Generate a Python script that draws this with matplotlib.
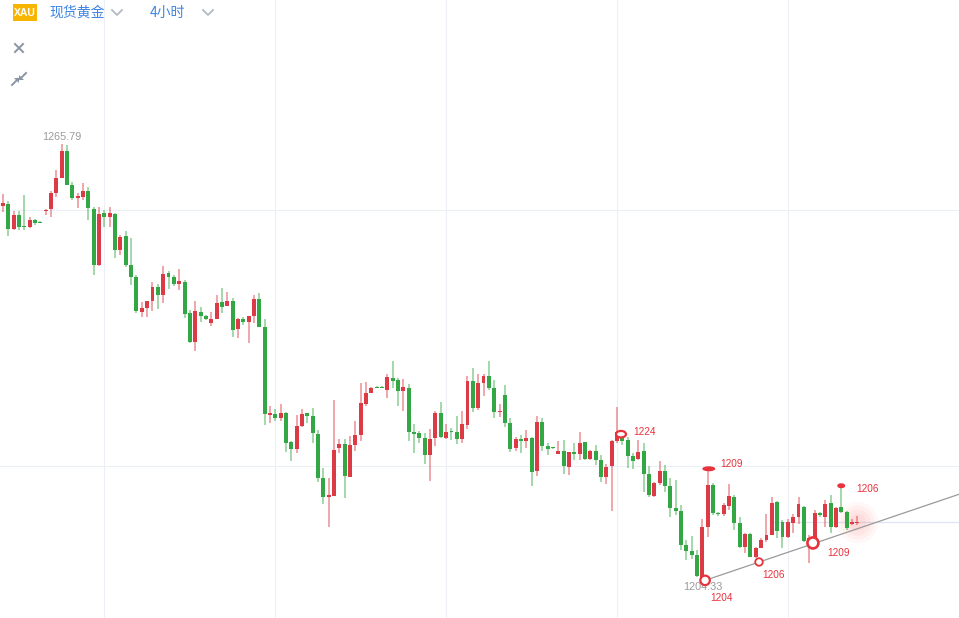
import numpy as np
import matplotlib.pyplot as plt
from matplotlib.patches import Ellipse, Rectangle

# 4h candles, XAU spot gold (red = up, green = down)
opens = [1257.0, 1257.3, 1253.8, 1255.7, 1254.2, 1254.0, 1255.0, 1254.7, 1256.3, 1256.6,
         1258.9, 1261.0, 1264.8, 1260.0, 1258.1, 1258.3, 1259.1, 1256.6, 1248.7, 1256.0,
         1255.5, 1255.9, 1250.8, 1252.8, 1248.7, 1247.0, 1242.0, 1242.6, 1243.6, 1245.5,
         1244.4, 1247.5, 1247.0, 1246.0, 1246.3, 1241.9, 1237.8, 1242.0, 1241.4, 1240.4,
         1241.0, 1243.4, 1242.9, 1243.6, 1239.6, 1241.0, 1240.6, 1241.4, 1243.8, 1239.9,
         1227.4, 1227.6, 1227.0, 1227.7, 1223.6, 1222.6, 1225.9, 1227.7, 1227.3, 1224.7,
         1218.5, 1215.8, 1215.9, 1222.7, 1223.3, 1218.6, 1223.2, 1224.6, 1229.0, 1230.5,
         1231.4, 1231.4, 1231.0, 1232.7, 1232.4, 1230.8, 1231.2, 1225.0, 1224.9, 1224.2,
         1221.8, 1224.2, 1227.7, 1224.2, 1225.2, 1225.0, 1224.0, 1226.0, 1232.2, 1228.4,
         1232.0, 1232.9, 1231.2, 1227.8, 1230.3, 1226.3, 1222.7, 1224.0, 1223.7, 1224.2,
         1219.5, 1226.4, 1223.0, 1222.9, 1221.9, 1222.3, 1220.0, 1222.2, 1221.9, 1223.6,
         1221.2, 1222.3, 1221.0, 1218.6, 1220.2, 1223.7, 1224.6, 1223.9, 1221.6, 1221.2,
         1222.3, 1219.1, 1215.9, 1217.8, 1219.5, 1217.4, 1214.2, 1213.8, 1209.0, 1208.2,
         1207.6, 1204.5, 1211.6, 1217.5, 1213.5, 1213.4, 1214.5, 1215.8, 1212.1, 1208.7,
         1210.6, 1207.3, 1208.6, 1209.7, 1210.4, 1215.1, 1212.3, 1210.1, 1212.1, 1213.0,
         1214.4, 1209.1, 1209.4, 1213.4, 1213.0, 1215.0, 1211.6, 1214.4, 1213.7, 1212.0,
         1212.1]
highs = [1258.7, 1257.7, 1256.3, 1256.3, 1258.6, 1255.5, 1255.2, 1254.9, 1256.6, 1259.1,
         1262.1, 1265.79, 1265.6, 1260.4, 1258.9, 1260.3, 1259.7, 1256.9, 1256.9, 1256.4,
         1256.9, 1256.0, 1252.9, 1253.5, 1252.5, 1247.2, 1243.4, 1243.6, 1246.3, 1246.0,
         1248.5, 1247.8, 1247.2, 1248.1, 1246.5, 1242.3, 1243.6, 1242.7, 1241.6, 1242.0,
         1244.4, 1245.4, 1244.8, 1244.0, 1241.2, 1241.3, 1241.4, 1244.4, 1244.7, 1241.0,
         1228.7, 1228.3, 1229.0, 1227.8, 1223.7, 1227.4, 1228.3, 1227.7, 1228.4, 1225.3,
         1219.9, 1218.5, 1229.5, 1224.0, 1224.0, 1224.4, 1226.6, 1232.0, 1232.1, 1231.4,
         1231.5, 1231.5, 1233.2, 1235.1, 1232.7, 1232.5, 1231.8, 1226.1, 1225.2, 1224.9,
         1225.4, 1228.0, 1229.3, 1226.1, 1225.6, 1227.3, 1228.0, 1232.9, 1234.1, 1233.2,
         1233.2, 1235.1, 1232.4, 1229.0, 1231.7, 1227.0, 1224.3, 1224.6, 1225.3, 1224.3,
         1227.3, 1227.0, 1223.5, 1222.9, 1223.7, 1223.9, 1222.2, 1223.5, 1225.0, 1223.6,
         1222.5, 1223.2, 1221.8, 1220.5, 1223.9, 1228.5, 1224.9, 1224.3, 1222.0, 1223.9,
         1223.5, 1220.2, 1217.9, 1220.9, 1220.3, 1218.5, 1218.2, 1214.7, 1209.7, 1210.3,
         1208.3, 1212.7, 1219.6, 1217.8, 1213.7, 1215.0, 1217.6, 1216.1, 1213.0, 1210.7,
         1210.7, 1208.7, 1210.0, 1213.4, 1215.8, 1215.2, 1212.5, 1212.7, 1213.4, 1215.8,
         1214.5, 1210.4, 1214.0, 1213.7, 1215.4, 1216.1, 1214.4, 1217.2, 1213.8, 1212.7,
         1213.1]
lows = [1256.2, 1252.8, 1253.6, 1253.6, 1253.6, 1253.9, 1254.3, 1254.6, 1255.7, 1255.5,
        1258.3, 1261.0, 1260.0, 1257.9, 1256.7, 1257.9, 1255.0, 1247.2, 1248.5, 1254.0,
        1254.0, 1249.7, 1250.1, 1248.4, 1245.8, 1241.9, 1241.3, 1241.3, 1242.1, 1242.4,
        1243.3, 1245.3, 1245.7, 1245.1, 1241.2, 1237.6, 1236.5, 1240.6, 1240.9, 1240.0,
        1241.0, 1241.9, 1242.9, 1238.5, 1238.3, 1240.2, 1237.6, 1240.4, 1239.9, 1226.0,
        1226.3, 1226.6, 1226.6, 1222.2, 1220.9, 1222.0, 1225.7, 1226.3, 1223.5, 1217.9,
        1214.8, 1211.6, 1215.9, 1222.0, 1215.7, 1218.6, 1222.3, 1223.7, 1228.7, 1230.5,
        1231.2, 1231.2, 1229.8, 1231.2, 1228.7, 1228.0, 1223.7, 1222.0, 1223.5, 1220.5,
        1218.1, 1223.0, 1224.2, 1224.0, 1223.9, 1223.3, 1223.5, 1225.4, 1227.8, 1228.1,
        1230.1, 1231.0, 1227.0, 1227.1, 1225.7, 1222.2, 1222.3, 1222.0, 1222.7, 1217.4,
        1218.8, 1222.3, 1221.8, 1222.6, 1221.9, 1219.1, 1218.9, 1221.0, 1221.0, 1221.0,
        1221.0, 1220.3, 1217.9, 1217.6, 1213.8, 1223.5, 1223.2, 1219.9, 1219.8, 1221.0,
        1216.5, 1215.8, 1215.8, 1217.5, 1216.5, 1213.0, 1213.3, 1208.3, 1206.9, 1207.0,
        1204.5, 1204.33, 1210.1, 1213.3, 1213.1, 1213.1, 1214.0, 1211.1, 1208.6, 1207.9,
        1207.3, 1207.2, 1208.7, 1209.4, 1210.4, 1210.0, 1208.6, 1210.0, 1210.7, 1212.0,
        1209.4, 1206.5, 1209.0, 1213.0, 1211.6, 1210.7, 1211.4, 1213.5, 1211.1, 1211.8,
        1211.8]
closes = [1257.4, 1253.8, 1255.7, 1254.0, 1254.0, 1255.0, 1254.6, 1254.6, 1256.4, 1258.9,
          1261.0, 1264.8, 1260.0, 1258.1, 1258.4, 1259.1, 1256.7, 1248.7, 1255.9, 1255.5,
          1256.0, 1250.8, 1252.6, 1248.7, 1247.0, 1242.1, 1242.6, 1243.6, 1245.5, 1244.4,
          1247.4, 1247.0, 1246.0, 1246.4, 1241.7, 1237.8, 1242.1, 1241.4, 1241.0, 1241.0,
          1243.3, 1242.7, 1243.6, 1239.5, 1241.0, 1240.6, 1241.4, 1243.8, 1239.9, 1227.6,
          1227.7, 1227.0, 1227.7, 1223.5, 1222.6, 1225.9, 1227.6, 1227.3, 1224.9, 1218.5,
          1215.8, 1216.1, 1222.5, 1223.3, 1218.8, 1223.2, 1224.6, 1229.1, 1230.5, 1231.2,
          1231.2, 1231.2, 1232.8, 1232.2, 1230.8, 1231.4, 1225.0, 1224.7, 1224.2, 1221.8,
          1224.0, 1227.7, 1224.3, 1225.0, 1225.0, 1224.0, 1226.1, 1232.2, 1228.4, 1232.0,
          1232.9, 1231.2, 1227.8, 1228.0, 1226.3, 1222.6, 1224.0, 1223.7, 1224.2, 1219.3,
          1226.4, 1223.0, 1222.6, 1222.7, 1222.3, 1220.2, 1222.2, 1221.9, 1223.5, 1221.2,
          1222.3, 1221.0, 1218.6, 1220.0, 1223.7, 1225.0, 1223.7, 1221.6, 1220.9, 1222.2,
          1219.1, 1216.1, 1217.8, 1219.5, 1217.4, 1214.2, 1213.8, 1209.0, 1208.2, 1207.6,
          1204.6, 1211.6, 1217.5, 1213.5, 1213.4, 1214.7, 1215.9, 1212.1, 1208.7, 1210.6,
          1207.3, 1208.6, 1209.7, 1210.4, 1215.0, 1211.0, 1210.1, 1212.3, 1213.0, 1214.8,
          1209.6, 1210.0, 1213.5, 1213.3, 1214.8, 1211.6, 1214.2, 1213.7, 1211.4, 1212.1,
          1212.3]

grid_prices = [1256.4, 1220.2]
grid_candles = [19, 51, 83, 115, 147]
last_price = 1212.3
trend_idx = [131.5, 179.1]
trend_price = [1204.0, 1216.2]

# annotation marks: candle position, price, label, style
mark_idx = [115.75, 132.2, 131.5, 141.6, 151.7, 157.0]
mark_price = [1224.7, 1219.8, 1204.0, 1206.6, 1209.3, 1217.4]
mark_labels = ["1224", "1209", "1204", "1206", "1209", "1206"]
mark_style = ["ring_wide", "fill_wide", "ring", "ring_small", "ring_big", "fill"]
label_offsets = [(12, 2), (11, 5), (5, -18), (3, -13), (14, -10), (15, -3)]

RED = "#dc3a44"
GREEN = "#33a744"
MARK = "#e8323c"
W, H = 959, 618
PX_X = 5.339     # pixels per candle
PX_Y = 0.1416    # price per pixel
TOP = 1286.18

fig = plt.figure(figsize=(W / 100, H / 100), dpi=100)
ax = fig.add_axes([0, 0, 1, 1])
ax.set_xlim(-3 / PX_X, (W - 3) / PX_X)
ax.set_ylim(TOP - H * PX_Y, TOP)
ax.axis("off")

# grid
for g in grid_prices:
    ax.axhline(g, color="#eceff5", lw=0.8, zorder=0)
for gc in grid_candles:
    ax.axvline(gc, color="#eceff5", lw=0.8, zorder=0)
ax.plot([144, (W - 3) / PX_X], [last_price, last_price], color="#dde4f2", lw=0.9, zorder=0)

o = np.array(opens)
c = np.array(closes)
hi = np.array(highs)
lo = np.array(lows)
x = np.arange(len(o))
up = c >= o
cols = np.where(up, RED, GREEN)

ax.vlines(x, lo, hi, colors=cols, lw=1.25, alpha=0.5, zorder=2)
body_bottom = np.minimum(o, c)
body_h = np.maximum(np.abs(c - o), 0.2)
ax.bar(x, body_h, bottom=body_bottom, width=0.74, color=cols, linewidth=0, zorder=3)

# trend line
ax.plot(trend_idx, trend_price, color="#9a9a9a", lw=0.9, zorder=4)

# glow on last candle
for s, a in [(900, 0.04), (600, 0.05), (350, 0.06), (150, 0.07)]:
    ax.scatter([x[-1]], [c[-1]], s=s, color="#ff5a5a", alpha=a, linewidths=0, zorder=1)

# marks
for mi, mp, lab, st, off in zip(mark_idx, mark_price, mark_labels, mark_style, label_offsets):
    if st == "ring_wide":
        e = Ellipse((mi, mp), 10 / PX_X, 6.5 * PX_Y, fc="white", ec=MARK, lw=1.6)
    elif st == "fill_wide":
        e = Ellipse((mi, mp), 13 / PX_X, 5 * PX_Y, fc=MARK, ec="none")
    elif st == "fill":
        e = Ellipse((mi, mp), 8 / PX_X, 5 * PX_Y, fc=MARK, ec="none")
    elif st == "ring_small":
        e = Ellipse((mi, mp), 7.5 / PX_X, 7.5 * PX_Y, fc="white", ec=MARK, lw=1.3)
    elif st == "ring_big":
        e = Ellipse((mi, mp), 11 / PX_X, 11 * PX_Y, fc="white", ec=MARK, lw=1.9)
    else:
        e = Ellipse((mi, mp), 9.5 / PX_X, 9.5 * PX_Y, fc="white", ec=MARK, lw=1.6)
    e.set_zorder(6)
    ax.add_patch(e)
    ax.annotate(lab, (mi, mp), xytext=off, textcoords="offset pixels",
                ha="left", va="center", fontsize=7.2, color=MARK,
                family="Liberation Sans", zorder=7)

# high / low labels
i_hi = int(np.argmax(hi))
i_lo = int(np.argmin(lo))
ax.annotate(f"{hi[i_hi]:.2f}", (i_hi, hi[i_hi]), xytext=(0, 7), textcoords="offset pixels",
            ha="center", va="center", fontsize=7.8, color="#9a9a9a", family="Liberation Sans")
ax.annotate(f"{lo[i_lo]:.2f}", (i_lo, lo[i_lo]), xytext=(0, -9), textcoords="offset pixels",
            ha="center", va="center", fontsize=7.8, color="#9a9a9a", family="Liberation Sans")

# header
def fx(px):
    return px / W

def fy(py):
    return 1 - py / H

fig.patches.append(Rectangle((fx(13), fy(21)), 24 / W, 17 / H, transform=fig.transFigure,
                             fc="#f8b500", ec="none"))
fig.text(fx(25), fy(12.5), "XAU", ha="center", va="center", fontsize=7.5, color="white",
         weight="bold", family="Liberation Sans")
fig.text(fx(49), fy(13), "现货黄金", ha="left", va="center", fontsize=10,
         color="#3d85e6", family=["Noto Sans CJK SC", "DejaVu Sans"])
fig.text(fx(150), fy(13), "4小时", ha="left", va="center", fontsize=10,
         color="#3d85e6", family=["Noto Sans CJK SC", "DejaVu Sans"])
for cx in [117, 208]:
    fig.add_artist(plt.Line2D([fx(cx - 5), fx(cx), fx(cx + 5)], [fy(10), fy(15), fy(10)],
                              transform=fig.transFigure, color="#b3b9c6", lw=1.3))
# close icon
fig.add_artist(plt.Line2D([fx(15), fx(23)], [fy(44), fy(52)], transform=fig.transFigure,
                          color="#8d94a6", lw=1.4))
fig.add_artist(plt.Line2D([fx(15), fx(23)], [fy(52), fy(44)], transform=fig.transFigure,
                          color="#8d94a6", lw=1.4))
# collapse icon
for (x0, y0, x1, y1) in [(26, 73, 20, 79), (12, 85, 18, 79)]:
    fig.add_artist(plt.Line2D([fx(x0), fx(x1)], [fy(y0), fy(y1)], transform=fig.transFigure,
                              color="#8d94a6", lw=1.4))
    sx = 1 if x1 > x0 else -1
    fig.patches.append(plt.Polygon([(fx(x1 + sx), fy(y1 - sx)),
                                    (fx(x1 - sx * 4), fy(y1 - sx)),
                                    (fx(x1 + sx), fy(y1 + sx * 4))],
                                   closed=True, transform=fig.transFigure, fc="#8d94a6", ec="none"))

fig.savefig("out.png", dpi=100)
